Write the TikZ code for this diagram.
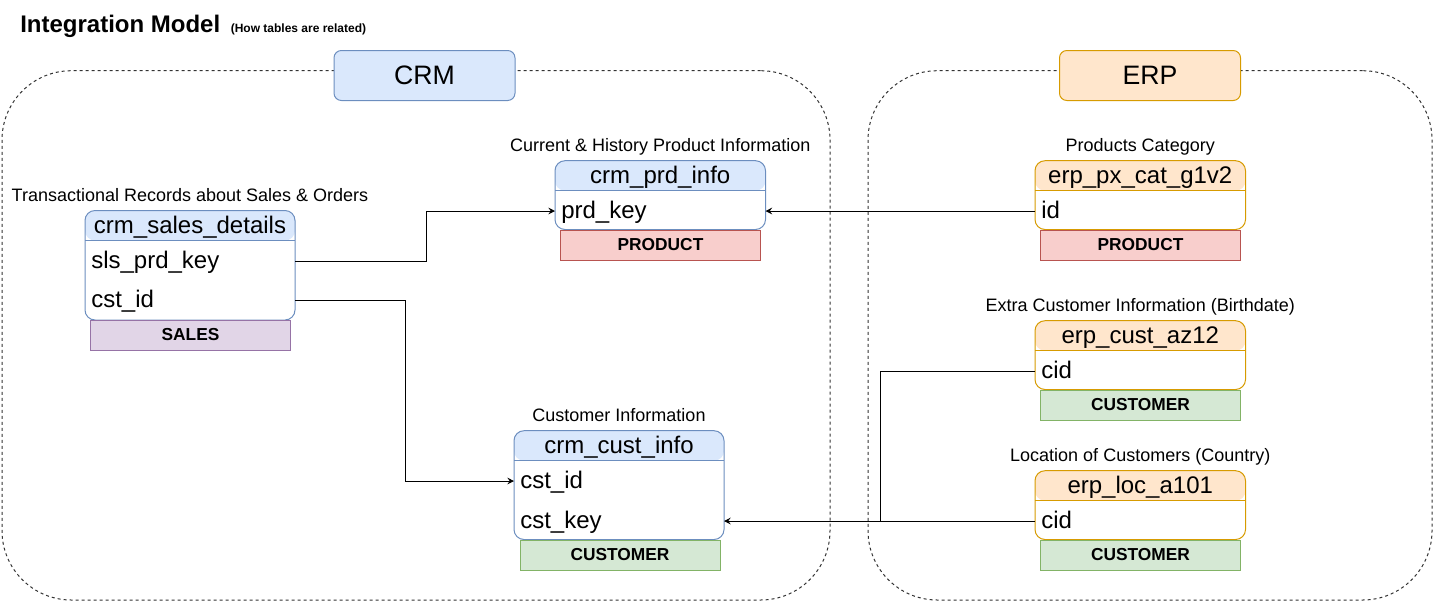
\documentclass[tikz,border=0pt]{standalone}
\usepackage{fontspec}
\setmainfont{Liberation Sans}
\usetikzlibrary{arrows.meta,fit}
\definecolor{bluef}{HTML}{DAE8FC}
\definecolor{blued}{HTML}{6C8EBF}
\definecolor{orangef}{HTML}{FFE6CC}
\definecolor{oranged}{HTML}{D79B00}
\definecolor{redf}{HTML}{F8CECC}
\definecolor{redd}{HTML}{B85450}
\definecolor{greenf}{HTML}{D5E8D4}
\definecolor{greend}{HTML}{82B366}
\definecolor{purplef}{HTML}{E1D5E7}
\definecolor{purpled}{HTML}{9673A6}
\definecolor{contd}{HTML}{333333}
\tikzset{
  tbl/.style={inner sep=0pt, outer sep=0pt, line width=0.75pt, rounded corners=7.5pt, fill=white},
  hdrtext/.style={anchor=base, inner sep=0pt, font=\fontsize{18}{21}\selectfont},
  rowtext/.style={anchor=west, inner xsep=0pt, inner ysep=0pt, text height=13pt, text depth=2.5pt, font=\fontsize{18}{21}\selectfont},
  captext/.style={anchor=base, inner sep=0pt, font=\fontsize{13.5}{16}\selectfont},
  catbox/.style={minimum width=150pt, minimum height=22.5pt, inner sep=0pt, line width=0.75pt, font=\bfseries\fontsize{13}{15}\selectfont},
  grpbox/.style={minimum width=135.75pt, minimum height=37.5pt, inner sep=0pt, line width=0.75pt, rounded corners=5.5pt, font=\fontsize{20}{24}\selectfont},
  container/.style={draw=contd, line width=0.75pt, dash pattern=on 2.25pt off 2.25pt, rounded corners=52pt, inner sep=0pt},
  conn/.style={line width=0.75pt, draw=black},
  arr/.style={-{Stealth[length=5pt, width=5pt, inset=1.8pt]}}
}
% #1 name, #2 x1, #3 ytop, #4 x2, #5 ybottom, #6 fill, #7 stroke, #8 title, #9 caption
\newcommand{\dbtable}[9]{%
  \node[tbl, draw=#7, fit={(#2,#3) (#4,#5)},
        path picture={\fill[#6] (path picture bounding box.north west) rectangle ([yshift=-22.5pt]path picture bounding box.north east);}] (#1) {};
  \draw[#7, line width=0.75pt] (#2,{#3+30}) -- (#4,{#3+30});
  \node[hdrtext] (#1-t) at ({(#2+#4)/2},{#3+23}) {#8};
  \node[captext] (#1-c) at ({(#2+#4)/2},{#3-9}) {#9};
}
\begin{document}
\begin{tikzpicture}[x=0.75pt, y=-0.75pt]
\useasboundingbox (0,0) rectangle (1434,601);

% title
\node[anchor=base west, inner sep=0pt, font=\bfseries\fontsize{18}{21}\selectfont] (title) at (20,32) {Integration Model};
\node[anchor=base west, inner sep=0pt, font=\bfseries\fontsize{9}{11}\selectfont] (subtitle) at ([xshift=7.5pt]title.base east) {(How tables are related)};

% containers
\node[container, fit={(2,70.7) (830,600)}] (crm) {};
\node[container, fit={(868,70.7) (1432,600)}] (erp) {};
\node[grpbox, fill=bluef, draw=blued] (crmlbl) at (424.5,75.5) {CRM};
\node[grpbox, fill=orangef, draw=oranged] (erplbl) at (1150,75.5) {ERP};

% CRM tables
\dbtable{sales}{85}{210.5}{295}{320}{bluef}{blued}{crm\_sales\_details}{Transactional Records about Sales \& Orders}
\node[rowtext] (sales-r1) at (91,261) {sls\_prd\_key};
\node[rowtext] (sales-r2) at (91,300) {cst\_id};
\node[catbox, fill=purplef, draw=purpled] (sales-cat) at (190.5,335) {SALES};

\dbtable{prd}{555}{160.7}{765.5}{229.5}{bluef}{blued}{crm\_prd\_info}{Current \& History Product Information}
\node[rowtext] (prd-r1) at (561,211) {prd\_key};
\node[catbox, fill=redf, draw=redd] (prd-cat) at (660.5,245) {PRODUCT};

\dbtable{cust}{514}{430.7}{724}{539.5}{bluef}{blued}{crm\_cust\_info}{Customer Information}
\node[rowtext] (cust-r1) at (520,481) {cst\_id};
\node[rowtext] (cust-r2) at (520,521) {cst\_key};
\node[catbox, fill=greenf, draw=greend] (cust-cat) at (620,555) {CUSTOMER};

% ERP tables
\dbtable{pxcat}{1035}{160.7}{1245.5}{229.5}{orangef}{oranged}{erp\_px\_cat\_g1v2}{Products Category}
\node[rowtext] (pxcat-r1) at (1041,211) {id};
\node[catbox, fill=redf, draw=redd] (pxcat-cat) at (1140.5,245) {PRODUCT};

\dbtable{az12}{1035}{320.7}{1245.5}{389.5}{orangef}{oranged}{erp\_cust\_az12}{Extra Customer Information (Birthdate)}
\node[rowtext] (az12-r1) at (1041,371) {cid};
\node[catbox, fill=greenf, draw=greend] (az12-cat) at (1140.5,405) {CUSTOMER};

\dbtable{loc}{1035}{470.7}{1245.5}{539.5}{orangef}{oranged}{erp\_loc\_a101}{Location of Customers (Country)}
\node[rowtext] (loc-r1) at (1041,521) {cid};
\node[catbox, fill=greenf, draw=greend] (loc-cat) at (1140.5,555) {CUSTOMER};

% connectors
\coordinate (j1) at (426,0);
\coordinate (j2) at (405,0);
\coordinate (j3) at (880,0);
\draw[conn, arr] (sales.east |- sales-r1) -| (j1 |- prd-r1) -- (prd.west |- prd-r1);
\draw[conn, arr] (sales.east |- sales-r2) -| (j2 |- cust-r1) -- (cust.west |- cust-r1);
\draw[conn, arr] (pxcat.west |- pxcat-r1) -- (prd.east |- prd-r1);
\draw[conn, arr] (loc.west |- loc-r1) -- (cust.east |- cust-r2);
\draw[conn] (az12.west |- az12-r1) -| (j3 |- loc-r1);
\end{tikzpicture}
\end{document}
